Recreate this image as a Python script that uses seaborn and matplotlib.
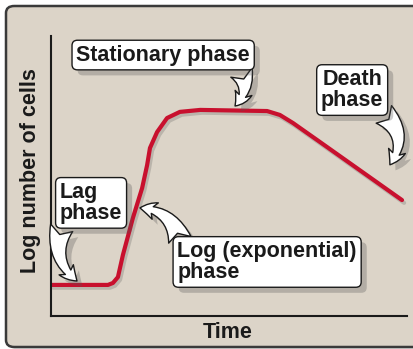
import numpy as np
import pandas as pd
import seaborn as sns
from matplotlib import pyplot as plt
from matplotlib import patheffects as pe
from matplotlib.patches import FancyBboxPatch

# growth curve (time vs log number of cells, 0-10 scale)
time = [0.0, 1.60, 1.74, 1.88, 2.02, 2.30, 2.56, 2.70, 2.78, 2.98, 3.26, 3.62,
        4.19, 6.07, 6.43, 6.80, 7.19, 7.47, 9.86]
log_cells = [1.11, 1.11, 1.18, 1.39, 2.18, 3.50, 4.57, 5.39, 6.00, 6.57, 7.07, 7.29,
             7.36, 7.32, 7.18, 6.89, 6.54, 6.29, 4.14]

labels = ["Stationary phase", "Death\nphase", "Lag\nphase", "Log (exponential)\nphase"]
label_xy = [(3.15, 9.32), (8.46, 8.07), (0.25, 4.04), (3.55, 1.93)]
arrow_from = [(5.35, 8.70), (9.35, 7.20), (0.30, 3.15), (3.62, 2.72)]
arrow_to = [(5.17, 7.50), (9.52, 5.40), (0.73, 1.25), (2.50, 3.86)]
label_ha = ["center", "center", "left", "left"]
arrow_rad = [-0.35, -0.45, 0.35, 0.35]

df = pd.DataFrame({"Time": time, "LogCells": log_cells})

bg = "#DCD4C8"
sns.set_style("white", {"axes.facecolor": bg, "figure.facecolor": "white"})
plt.rcParams['font.family'] = ['Liberation Sans', 'DejaVu Sans']

fig = plt.figure(figsize=(4.14, 3.49), dpi=100)

# rounded beige panel
panel = FancyBboxPatch((6 / 414, 2 / 349), 420 / 414, 341 / 349,
                       boxstyle="round,pad=0,rounding_size=0.02",
                       transform=fig.transFigure, fc=bg, ec="#3a3a3a", lw=1.8, zorder=-5,
                       path_effects=[pe.SimplePatchShadow(offset=(1, -1), alpha=0.4),
                                     pe.Normal()])
fig.patches.append(panel)

ax = fig.add_axes([51 / 414, 33 / 349, 356 / 414, 280 / 349])
ax.patch.set_visible(False)

sns.lineplot(data=df, x="Time", y="LogCells", sort=False, color="#C8102E",
             linewidth=3.0, ax=ax, solid_joinstyle="round",
             path_effects=[pe.SimpleLineShadow(offset=(1.5, -2), alpha=0.25, shadow_color="#555"),
                           pe.Normal()])

ax.set_xlim(0, 10)
ax.set_ylim(0, 10)
ax.set_xticks([])
ax.set_yticks([])
for s in ["top", "right"]:
    ax.spines[s].set_visible(False)
for s in ["left", "bottom"]:
    ax.spines[s].set_color("#1a1a1a")
    ax.spines[s].set_linewidth(1.5)

ax.set_xlabel("Time", fontsize=15.5, fontweight="bold", color="#1a1a1a", va="center")
ax.set_ylabel("Log number of cells", fontsize=15.5, fontweight="bold", color="#1a1a1a", va="center")
ax.xaxis.set_label_coords(0.497, -0.06)
ax.yaxis.set_label_coords(-0.058, 0.52)

shadow = [pe.SimplePatchShadow(offset=(4, -4), alpha=0.3, shadow_rgbFace="#555"), pe.Normal()]

for txt, xy, src, dst, ha, rad in zip(labels, label_xy, arrow_from, arrow_to, label_ha, arrow_rad):
    ann = ax.annotate("", xy=dst, xytext=src,
                      arrowprops=dict(arrowstyle="fancy,head_length=0.8,head_width=0.9,tail_width=1.2",
                                      connectionstyle=f"arc3,rad={rad}", mutation_scale=14,
                                      fc="white", ec="#1a1a1a", lw=1.0, shrinkA=0, shrinkB=0,
                                      path_effects=shadow))
    t = ax.text(xy[0], xy[1], txt, ha=ha, va="center", fontsize=15.5, fontweight="bold",
                color="#1a1a1a", linespacing=1.0,
                bbox=dict(boxstyle="round,pad=0.2,rounding_size=0.25", fc="white",
                          ec="#1a1a1a", lw=1.0))
    t.get_bbox_patch().set_path_effects(shadow)

fig.savefig("out.png", dpi=100)
